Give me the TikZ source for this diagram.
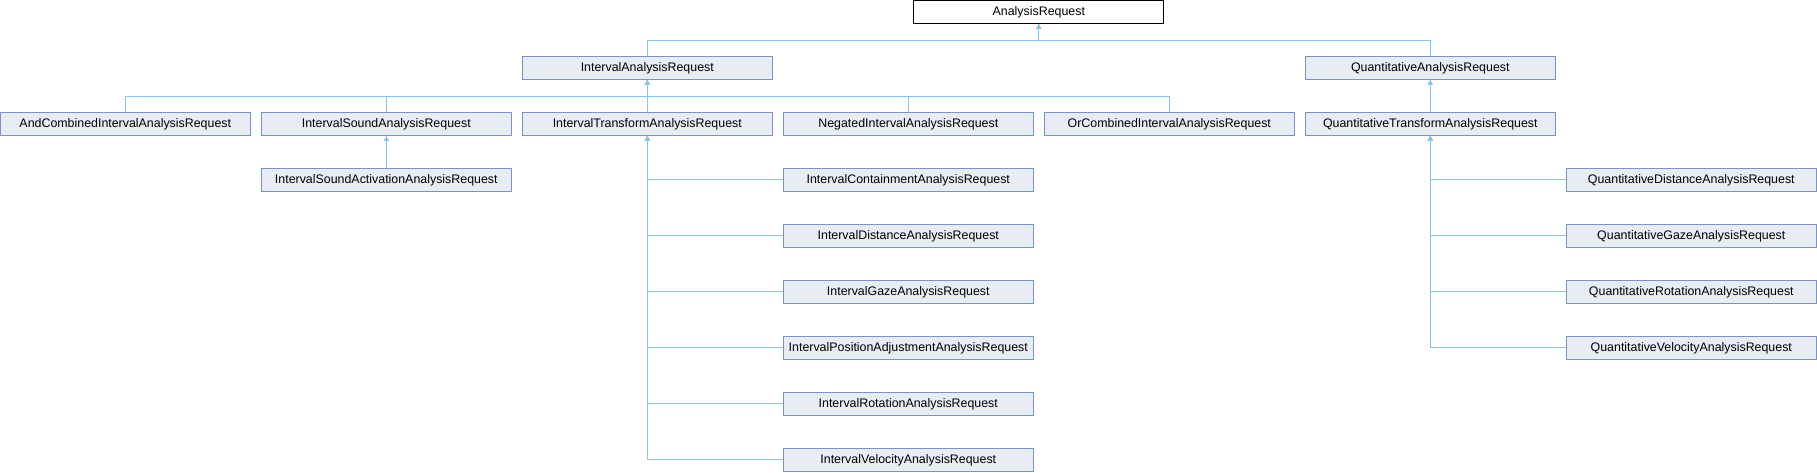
\documentclass[tikz,border=0pt]{standalone}
\usepackage{fontspec}
\setmainfont{Liberation Sans}
\usetikzlibrary{arrows.meta}
\definecolor{boxfill}{RGB}{232,236,245}
\definecolor{boxline}{RGB}{123,147,200}
\definecolor{connline}{RGB}{136,197,234}
\tikzset{
  cls/.style={draw=boxline, fill=boxfill, line width=1pt, minimum width=250pt, minimum height=23pt,
    inner sep=0pt, font=\fontsize{12.4}{14}\selectfont},
  rootcls/.style={cls, draw=black, fill=white},
  conn/.style={draw=connline, line width=1pt},
  inh/.style={conn, -{Triangle[length=5pt,width=5pt]}},
}
\begin{document}
\begin{tikzpicture}[x=1pt,y=-1pt]
\useasboundingbox (0,0) rectangle (1817,472);
% rows: top = 56k, center = 56k+11.8 ; columns: center = 261c+125.3
\node[rootcls] (ar) at (1038.8,11.8) {AnalysisRequest};
\node[cls] (iar) at (647.3,67.8) {IntervalAnalysisRequest};
\node[cls] (qar) at (1430.3,67.8) {QuantitativeAnalysisRequest};
\node[cls] (and) at (125.3,123.8) {AndCombinedIntervalAnalysisRequest};
\node[cls] (isnd) at (386.3,123.8) {IntervalSoundAnalysisRequest};
\node[cls] (itr) at (647.3,123.8) {IntervalTransformAnalysisRequest};
\node[cls] (neg) at (908.3,123.8) {NegatedIntervalAnalysisRequest};
\node[cls] (orc) at (1169.3,123.8) {OrCombinedIntervalAnalysisRequest};
\node[cls] (qtr) at (1430.3,123.8) {QuantitativeTransformAnalysisRequest};
\node[cls] (isa) at (386.3,179.8) {IntervalSoundActivationAnalysisRequest};
\node[cls] (icon) at (908.3,179.8) {IntervalContainmentAnalysisRequest};
\node[cls] (idis) at (908.3,235.8) {IntervalDistanceAnalysisRequest};
\node[cls] (igaz) at (908.3,291.8) {IntervalGazeAnalysisRequest};
\node[cls] (ipos) at (908.3,347.8) {IntervalPositionAdjustmentAnalysisRequest};
\node[cls] (irot) at (908.3,403.8) {IntervalRotationAnalysisRequest};
\node[cls] (ivel) at (908.3,459.8) {IntervalVelocityAnalysisRequest};
\node[cls] (qdis) at (1691.3,179.8) {QuantitativeDistanceAnalysisRequest};
\node[cls] (qgaz) at (1691.3,235.8) {QuantitativeGazeAnalysisRequest};
\node[cls] (qrot) at (1691.3,291.8) {QuantitativeRotationAnalysisRequest};
\node[cls] (qvel) at (1691.3,347.8) {QuantitativeVelocityAnalysisRequest};
% junctions
\coordinate (j1) at (1038.8,40);
\coordinate (j2) at (647.3,96.7);
% level 1
\draw[inh] (iar.north) |- (j1) -- (ar.south);
\draw[inh] (qar.north) |- (j1) -- (ar.south);
% level 2 (interval)
\foreach \c in {and,isnd,itr,neg,orc}{
  \draw[inh] (\c.north) |- (j2) -- (iar.south);
}
\draw[inh] (qtr.north) -- (qar.south);
\draw[inh] (isa.north) -- (isnd.south);
% interval transform children
\foreach \c in {icon,idis,igaz,ipos,irot,ivel}{
  \draw[inh] (\c.west) -| (itr.south);
}
% quantitative transform children
\foreach \c in {qdis,qgaz,qrot,qvel}{
  \draw[inh] (\c.west) -| (qtr.south);
}
\end{tikzpicture}
\end{document}
